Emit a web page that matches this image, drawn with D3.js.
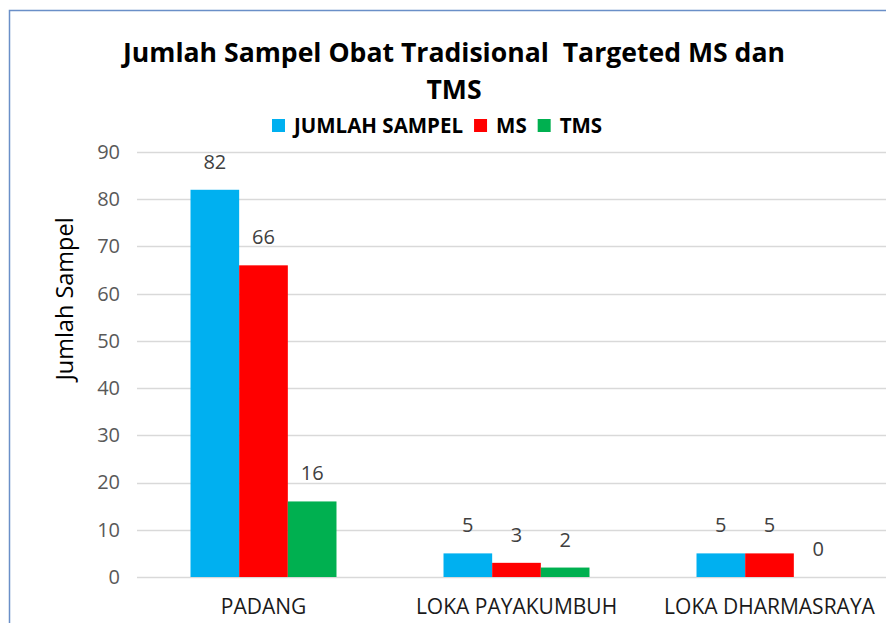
<!DOCTYPE html>
<html>
<head>
<meta charset="utf-8">
<script src="https://cdn.jsdelivr.net/npm/d3@7"></script>
<style>
  html, body { margin: 0; padding: 0; background: #fff; overflow: hidden; }
</style>
</head>
<body>
<div id="chart"></div>
<script>
// data
const categories = ["PADANG", "LOKA PAYAKUMBUH", "LOKA DHARMASRAYA"]
const seriesNames = ["JUMLAH SAMPEL", "MS", "TMS"]
const jumlahSampel = [82, 5, 5]
const msValues = [66, 3, 5]
const tmsValues = [16, 2, 0]
const yTicks = [0, 10, 20, 30, 40, 50, 60, 70, 80, 90]
const colors = ["#00b0f0", "#ff0000", "#00b050"]

const seriesValues = [jumlahSampel, msValues, tmsValues]

const width = 886
const height = 623
let dimensions = {
  width: width,
  height: height,
  margin: { top: 152, right: -10, bottom: 46, left: 137 },
}
dimensions.boundedWidth = dimensions.width - dimensions.margin.left - dimensions.margin.right
dimensions.boundedHeight = dimensions.height - dimensions.margin.top - dimensions.margin.bottom

const svg = d3.select("#chart")
  .append("svg")
  .attr("width", width)
  .attr("height", height)

// frame (chart area border, cropped on right/bottom)
svg.append("path")
  .attr("d", `M9.5,${height} V10.5 H${width}`)
  .attr("fill", "none")
  .attr("stroke", "#6a8fc8")
  .attr("stroke-width", 1.5)

const bounds = svg.append("g")
  .attr("transform", `translate(${dimensions.margin.left},${dimensions.margin.top})`)

// scales
const x0 = d3.scaleBand()
  .domain(categories)
  .range([0, dimensions.boundedWidth])
  .paddingInner(0.423)
  .paddingOuter(0.2115)

const x1 = d3.scaleBand()
  .domain(seriesNames)
  .range([0, x0.bandwidth()])

const yScale = d3.scaleLinear()
  .domain([0, 90])
  .range([dimensions.boundedHeight, 0])

// grid
bounds.append("g")
  .selectAll("line")
  .data(yTicks)
  .join("line")
    .attr("x1", 0)
    .attr("x2", dimensions.boundedWidth)
    .attr("y1", d => Math.round(yScale(d)) + 0.5)
    .attr("y2", d => Math.round(yScale(d)) + 0.5)
    .attr("stroke", "#d9d9d9")
    .attr("stroke-width", 1.5)

// y axis labels
const yAxis = bounds.append("g")
  .call(d3.axisLeft(yScale).tickValues(yTicks).tickSize(0).tickPadding(17))
yAxis.select(".domain").remove()
yAxis.selectAll("text")
  .attr("font-family", "'Open Sans', sans-serif")
  .attr("font-size", 20)
  .attr("fill", "#595959")

// x axis labels
const xAxis = bounds.append("g")
  .attr("transform", `translate(0,${dimensions.boundedHeight})`)
  .call(d3.axisBottom(x0).tickSize(0).tickPadding(22))
xAxis.select(".domain").remove()
xAxis.selectAll("text")
  .attr("font-family", "'Open Sans', sans-serif")
  .attr("font-size", 21)
  .attr("fill", "#1a1a1a")

// bars
const groups = bounds.append("g")
  .selectAll("g")
  .data(categories)
  .join("g")
    .attr("transform", d => `translate(${x0(d)},0)`)

groups.selectAll("rect")
  .data((d, i) => seriesNames.map((s, j) => ({ s, v: seriesValues[j][i], c: colors[j] })))
  .join("rect")
    .attr("x", d => x1(d.s))
    .attr("width", x1.bandwidth())
    .attr("y", d => yScale(d.v))
    .attr("height", d => dimensions.boundedHeight - yScale(d.v))
    .attr("fill", d => d.c)

groups.selectAll("text")
  .data((d, i) => seriesNames.map((s, j) => ({ s, v: seriesValues[j][i] })))
  .join("text")
    .attr("x", d => x1(d.s) + x1.bandwidth() / 2)
    .attr("y", d => yScale(d.v) - 21)
    .attr("text-anchor", "middle")
    .attr("font-family", "'Open Sans', sans-serif")
    .attr("font-size", 20)
    .attr("fill", "#404040")
    .text(d => d.v)

// y axis title
svg.append("text")
  .attr("transform", `translate(73,299) rotate(-90)`)
  .attr("text-anchor", "middle")
  .attr("font-family", "'Open Sans', sans-serif")
  .attr("font-size", 23.5)
  .attr("fill", "#000")
  .text("Jumlah Sampel")

// title
const title = svg.append("text")
  .attr("text-anchor", "middle")
  .attr("font-family", "'Open Sans', sans-serif")
  .attr("font-weight", "bold")
  .attr("font-size", 26.6)
  .attr("fill", "#000")
title.append("tspan").attr("x", 454).attr("y", 62)
  .attr("xml:space", "preserve")
  .text("Jumlah Sampel Obat Tradisional  Targeted MS dan")
title.append("tspan").attr("x", 454).attr("y", 99).text("TMS")

// legend
const legend = svg.append("g")
  .attr("transform", "translate(272,125)")
let lx = 0
seriesNames.forEach((name, i) => {
  const item = legend.append("g").attr("transform", `translate(${lx},0)`)
  item.append("rect")
    .attr("x", 0).attr("y", -6)
    .attr("width", 13).attr("height", 13)
    .attr("fill", colors[i])
  const t = item.append("text")
    .attr("x", 22).attr("y", 8)
    .attr("font-family", "'Open Sans', sans-serif")
    .attr("font-weight", "bold")
    .attr("font-size", 20.5)
    .attr("fill", "#000")
    .text(name)
  lx += 22 + t.node().getComputedTextLength() + 11
})
</script>
</body>
</html>
